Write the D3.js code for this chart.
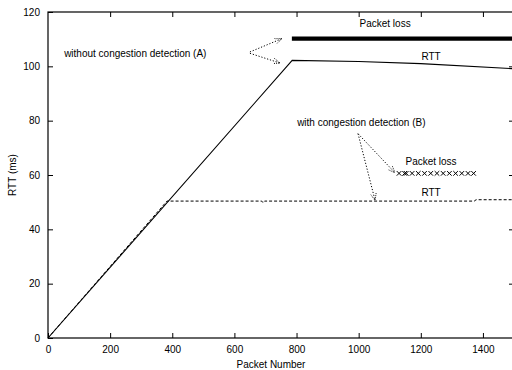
<!DOCTYPE html>
<html>
  <head>
    <meta charset="utf-8">
    <title>RTT vs packet number</title>
    <script src="https://d3js.org/d3.v7.min.js"></script>
    <style>
      body { margin: 0; background: #fff; overflow: hidden; }
      svg { display: block; font-family: "Liberation Sans", Arial, sans-serif; font-size: 10px; }
      .frame { fill: none; stroke: #000; stroke-width: 1.2; }
      .tick line { stroke: #000; }
      .tick text { fill: #000; font-size: 10px; }
      .domain { display: none; }
      .rttA { fill: none; stroke: #000; stroke-width: 1.1; }
      .rttB { fill: none; stroke: #000; stroke-width: 1; stroke-dasharray: 3 2; }
      .lossA { stroke: #000; stroke-width: 4.2; }
      .cross { stroke: #000; stroke-width: 1; }
      .arrow { fill: none; stroke: #000; stroke-width: 1; stroke-dasharray: 1.2 1.8; }
    </style>
  </head>
  <body>
    <svg id="chart" width="512" height="370"></svg>
    <script>
      // data
      xTicks = [0, 200, 400, 600, 800, 1000, 1200, 1400];
      yTicks = [0, 20, 40, 60, 80, 100, 120];
      // RTT without congestion detection (A)
      rttA = [[0, 0], [786, 102.2], [1000, 101.8], [1200, 101], [1500, 99.1]];
      // RTT with congestion detection (B)
      rttB = [[0, 0], [383, 50.4], [688, 50.4], [692, 49.8], [697, 50.4],
              [1372, 50.4], [1378, 50.9], [1500, 50.9]];
      // packet loss (A): continuous run of lost packets
      lossA = [785, 1500];
      lossAValue = 110.2;
      // packet loss (B)
      lossB = [1130, 1148, 1153, 1172, 1192, 1212, 1232, 1252, 1272, 1292, 1312, 1332, 1352, 1370];
      lossBValue = 60.6;
      labels = [
        { text: "without congestion detection (A)", x: 52, y: 103.5, anchor: "start" },
        { text: "Packet loss", x: 1085, y: 114.3, anchor: "middle" },
        { text: "RTT", x: 1233, y: 102.4, anchor: "middle" },
        { text: "with congestion detection (B)", x: 802, y: 78.2, anchor: "start" },
        { text: "Packet loss", x: 1233, y: 63.5, anchor: "middle" },
        { text: "RTT", x: 1233, y: 52.3, anchor: "middle" }
      ];
      arrows = [
        { from: [650, 105.3], to: [753, 110.2] },
        { from: [650, 104.8], to: [747, 101.2] },
        { from: [998, 75.2], to: [1117, 60.8] },
        { from: [998, 75.2], to: [1053, 50.6] }
      ];

      svg = d3.select("#chart");
      x = d3.scaleLinear().domain([0, 1500]).range([48, 514]);
      y = d3.scaleLinear().domain([0, 120]).range([338, 12]);

      // arrowhead
      svg.append("defs").append("marker")
        .attr("id", "head")
        .attr("viewBox", "0 0 10 10")
        .attr("refX", 10).attr("refY", 5)
        .attr("markerWidth", 7).attr("markerHeight", 7)
        .attr("markerUnits", "userSpaceOnUse")
        .attr("orient", "auto")
        .append("path")
          .attr("d", "M0,1 L10,5 L0,9")
          .attr("fill", "none")
          .attr("stroke", "#000")
          .attr("stroke-width", 1.2)
          .attr("stroke-dasharray", "1.5 1.5");

      // axes with inward ticks
      svg.append("g")
        .attr("transform", "translate(0," + y(0) + ")")
        .call(d3.axisBottom(x).tickValues(xTicks).tickSize(-5).tickPadding(8).tickFormat(d3.format("d")));
      svg.append("g")
        .attr("transform", "translate(0," + y(120) + ")")
        .call(d3.axisTop(x).tickValues(xTicks.slice(1)).tickSize(-5).tickFormat(""));
      svg.append("g")
        .attr("transform", "translate(" + x(0) + ",0)")
        .call(d3.axisLeft(y).tickValues(yTicks).tickSize(-5).tickPadding(8));
      svg.append("g")
        .attr("transform", "translate(" + x(1500) + ",0)")
        .call(d3.axisRight(y).tickValues(yTicks.slice(1, -1)).tickSize(-5).tickFormat(""));

      svg.append("rect")
        .attr("class", "frame")
        .attr("x", x(0)).attr("y", y(120))
        .attr("width", x(1500) - x(0)).attr("height", y(0) - y(120));

      line = d3.line().x(function(d) { return x(d[0]); }).y(function(d) { return y(d[1]); });

      svg.append("path").datum(rttA).attr("class", "rttA").attr("d", line);
      svg.append("path").datum(rttB).attr("class", "rttB").attr("d", line);

      svg.append("line")
        .attr("class", "lossA")
        .attr("x1", x(lossA[0])).attr("x2", x(lossA[1]))
        .attr("y1", y(lossAValue)).attr("y2", y(lossAValue));

      svg.selectAll(".cross")
        .data(lossB)
        .enter().append("path")
          .attr("class", "cross")
          .attr("d", function(d) {
            var cx = x(d), cy = y(lossBValue), r = 2.3;
            return "M" + (cx - r) + "," + (cy - r) + "L" + (cx + r) + "," + (cy + r) +
                   "M" + (cx - r) + "," + (cy + r) + "L" + (cx + r) + "," + (cy - r);
          });

      svg.selectAll(".arrow")
        .data(arrows)
        .enter().append("line")
          .attr("class", "arrow")
          .attr("x1", function(d) { return x(d.from[0]); })
          .attr("y1", function(d) { return y(d.from[1]); })
          .attr("x2", function(d) { return x(d.to[0]); })
          .attr("y2", function(d) { return y(d.to[1]); })
          .attr("marker-end", "url(#head)");

      svg.selectAll(".label")
        .data(labels)
        .enter().append("text")
          .attr("class", "label")
          .attr("x", function(d) { return x(d.x); })
          .attr("y", function(d) { return y(d.y); })
          .attr("text-anchor", function(d) { return d.anchor; })
          .text(function(d) { return d.text; });

      svg.append("text")
        .attr("x", 271).attr("y", 368)
        .attr("text-anchor", "middle")
        .text("Packet Number");
      svg.append("text")
        .attr("transform", "translate(16," + y(60) + ") rotate(-90)")
        .attr("text-anchor", "middle")
        .text("RTT (ms)");
    </script>
  </body>
</html>
